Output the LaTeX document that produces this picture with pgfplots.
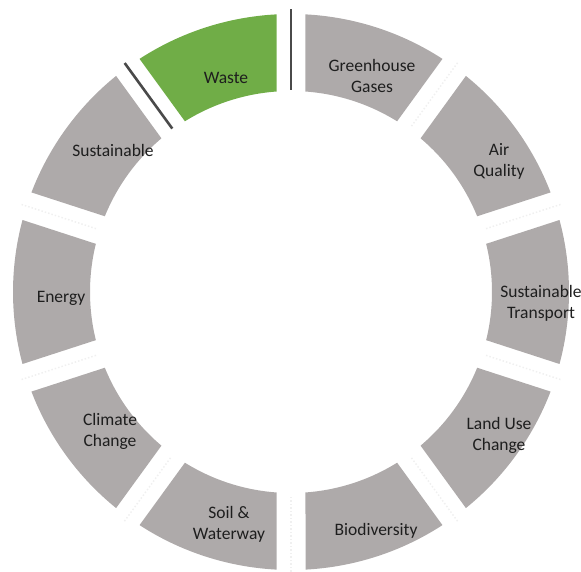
\documentclass[border=0pt]{standalone}
\usepackage{pgfplots}
\usepackage{pgfplotstable}
\pgfplotsset{compat=1.18}
\usepackage{fontspec}
\setmainfont{Carlito}
\definecolor{segGrey}{HTML}{AEAAAA}
\definecolor{segGreen}{HTML}{70AD47}
\definecolor{lblText}{HTML}{1E1E1E}
\definecolor{darkLine}{HTML}{4A4A4A}
\definecolor{faintLine}{HTML}{F0F0F0}

% one row per segment, clockwise from the top
\pgfplotstableread{
idx value
0 1
1 1
2 1
3 1
4 1
5 1
6 1
7 1
8 1
9 1
}\segs

\def\Ro{278}
\def\Ri{201}
\def\gap{14.5}

\begin{document}
\begin{tikzpicture}
\begin{axis}[name=ax, x=1bp, y=1bp, xmin=-291, xmax=290, ymin=-280, ymax=292,
  hide axis, scale only axis, clip=true]
\addplot[draw=none] coordinates {(-291,-280) (290,292)};
\pgfplotsextra{
  \pgfplotstablegetrowsof{\segs}
  \pgfmathtruncatemacro\nrows{\pgfplotsretval-1}
  \gdef\total{0}
  \foreach \i in {0,...,\nrows}{
    \pgfplotstablegetelem{\i}{value}\of\segs
    \pgfmathsetmacro\t{\total+\pgfplotsretval}
    \xdef\total{\t}
  }
  \gdef\cum{0}
  \foreach \i in {0,...,\nrows}{
    \pgfplotstablegetelem{\i}{value}\of\segs
    \pgfmathsetmacro\b{90-\cum*360/\total}
    \pgfmathsetmacro\nc{\cum+\pgfplotsretval}
    \xdef\cum{\nc}
    \pgfmathsetmacro\a{90-\cum*360/\total}
    \pgfmathsetmacro\ao{\a+asin(\gap/\Ro)}
    \pgfmathsetmacro\bo{\b-asin(\gap/\Ro)}
    \pgfmathsetmacro\ai{\a+asin(\gap/\Ri)}
    \pgfmathsetmacro\bi{\b-asin(\gap/\Ri)}
    \ifnum\i=\nrows\def\segcol{segGreen}\else\def\segcol{segGrey}\fi
    \fill[color=\segcol] (axis cs:{\Ro*cos(\ao)},{\Ro*sin(\ao)})
      arc[start angle=\ao, end angle=\bo, radius=\Ro bp]
      -- (axis cs:{\Ri*cos(\bi)},{\Ri*sin(\bi)})
      arc[start angle=\bi, end angle=\ai, radius=\Ri bp] -- cycle;
    \ifnum\i<\numexpr\nrows-1\relax
      \draw[faintLine, line width=1.5bp, dotted]
        (axis cs:{205*cos(\a)},{205*sin(\a)}) -- (axis cs:{285*cos(\a)},{285*sin(\a)});
    \fi
  }
  \draw[darkLine, line width=2.6bp] (axis cs:0,202) -- (axis cs:0,283);
  \draw[darkLine, line width=2.6bp] (axis cs:{202*cos(126)},{202*sin(126)}) -- (axis cs:{283*cos(126)},{283*sin(126)});
  \begin{scope}[every node/.style={font=\fontsize{17.5bp}{21bp}\selectfont, text=lblText, align=center, inner sep=0pt}]
  \node at (axis cs:-65,214) {Waste};
  \node at (axis cs:81,216) {Greenhouse\\Gases};
  \node at (axis cs:208,131) {Air\\Quality};
  \node at (axis cs:250,-11) {Sustainable\\Transport};
  \node at (axis cs:208,-143) {Land Use\\Change};
  \node at (axis cs:85,-239) {Biodiversity};
  \node at (axis cs:-62,-232) {Soil \&\\Waterway};
  \node at (axis cs:-181,-139) {Climate\\Change};
  \node at (axis cs:-230,-6) {Energy};
  \node at (axis cs:-178,142) {Sustainable};
  \end{scope}
}
\end{axis}
\pgfresetboundingbox
\path (ax.south west) rectangle (ax.north east);
\end{tikzpicture}
\end{document}
